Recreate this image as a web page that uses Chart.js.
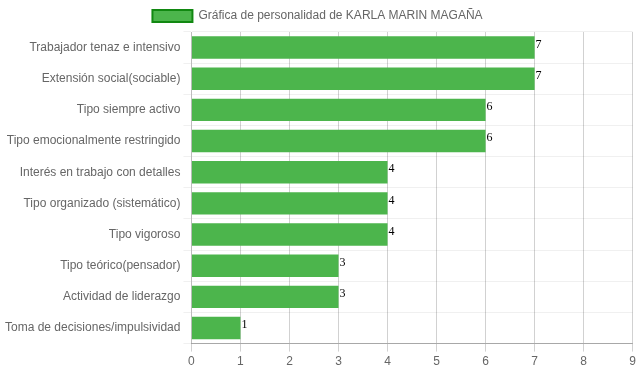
<!DOCTYPE html>
<html>
<head>
    <title>Gráfica de personalidad</title>
    <script src="https://cdn.jsdelivr.net/npm/chart.js"></script>
    <style>
        body { margin: 0; }
        #wrap { width: 639px; height: 372px; }
    </style>
</head>
<body>
<div id="wrap">
    <canvas id="grafica"></canvas>
</div>
<script>
    // datos de la gráfica
    const categorias = [
        'Trabajador tenaz e intensivo',
        'Extensión social(sociable)',
        'Tipo siempre activo',
        'Tipo emocionalmente restringido',
        'Interés en trabajo con detalles',
        'Tipo organizado (sistemático)',
        'Tipo vigoroso',
        'Tipo teórico(pensador)',
        'Actividad de liderazgo',
        'Toma de decisiones/impulsividad'
    ];
    const valores = [7, 7, 6, 6, 4, 4, 4, 3, 3, 1];
    const titulo = 'Gráfica de personalidad de KARLA MARIN MAGAÑA';
    const ejeMin = 0;
    const ejeMax = 9;

    // escribe el valor al final de cada barra
    const etiquetasValor = {
        id: 'etiquetasValor',
        afterDatasetsDraw(chart) {
            const ctx = chart.ctx;
            ctx.save();
            ctx.font = "12px 'Liberation Serif', serif";
            ctx.fillStyle = '#000';
            ctx.textAlign = 'left';
            ctx.textBaseline = 'middle';
            chart.getDatasetMeta(0).data.forEach((bar, i) => {
                ctx.fillText(chart.data.datasets[0].data[i], bar.x + 1, bar.y - 3);
            });
            ctx.restore();
        }
    };

    Chart.defaults.font.family = "'Liberation Sans', Arial, sans-serif";
    Chart.defaults.font.size = 12;
    Chart.defaults.color = '#666';

    new Chart(document.getElementById('grafica'), {
        type: 'bar',
        data: {
            labels: categorias,
            datasets: [{
                label: titulo,
                data: valores,
                backgroundColor: '#4CB54C',
                borderColor: '#118811',
                borderWidth: 0
            }]
        },
        options: {
            indexAxis: 'y',
            responsive: true,
            maintainAspectRatio: false,
            animation: false,
            layout: { padding: { left: 2, right: 6 } },
            scales: {
                x: {
                    min: ejeMin,
                    max: ejeMax,
                    ticks: { stepSize: 1 },
                    grid: { color: 'rgba(0,0,0,0.18)' },
                    border: { color: 'rgba(0,0,0,0.3)' }
                },
                y: {
                    grid: { color: 'rgba(0,0,0,0.06)' },
                    border: { color: 'rgba(0,0,0,0.1)' }
                }
            },
            plugins: {
                legend: {
                    labels: {
                        boxWidth: 40,
                        generateLabels(chart) {
                            return [{
                                text: titulo,
                                fillStyle: '#4CB54C',
                                strokeStyle: '#118811',
                                lineWidth: 2,
                                datasetIndex: 0,
                                fontColor: '#666'
                            }];
                        }
                    }
                },
                tooltip: { enabled: false }
            }
        },
        plugins: [etiquetasValor]
    });
</script>
</body>
</html>
